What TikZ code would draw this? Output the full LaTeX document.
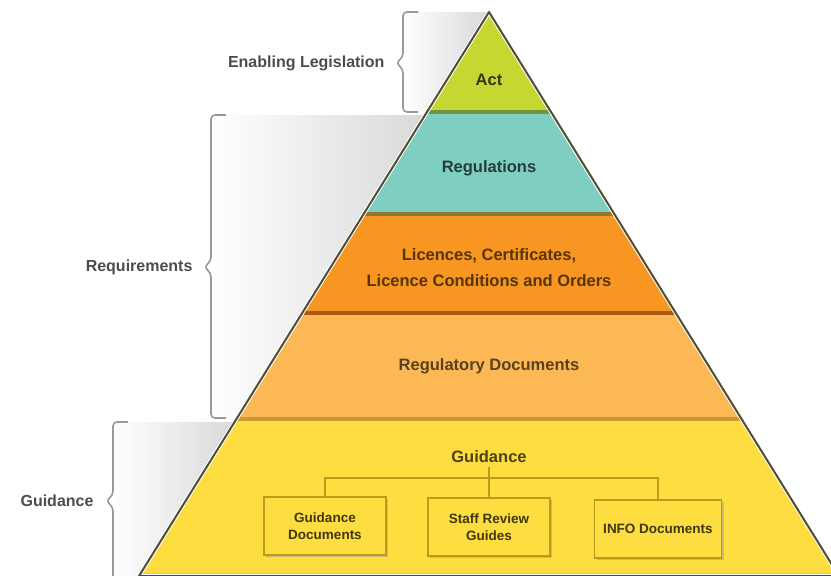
\documentclass[tikz,border=0pt]{standalone}
\usepackage{fontspec}
\setmainfont{Liberation Sans}
\usetikzlibrary{positioning,shadows}

\definecolor{actgreen}{RGB}{198,215,50}
\definecolor{regteal}{RGB}{126,206,193}
\definecolor{licorange}{RGB}{247,150,32}
\definecolor{docorange}{RGB}{253,184,86}
\definecolor{guideyellow}{RGB}{253,221,64}
\definecolor{guideline}{RGB}{185,155,30}
\definecolor{edgegray}{RGB}{80,78,50}

\begin{document}
\begin{tikzpicture}[x=1pt,y=-1pt,
	band/.style={font=\bfseries\fontsize{16.5}{26}\selectfont, align=center},
	side/.style={font=\bfseries\fontsize{16}{19}\selectfont, text=black!70, anchor=east},
	brace/.style={draw=black!40, line width=1.6pt, rounded corners=4pt},
	backshade/.style={left color=white, right color=black!15},
	sep/.style={line width=4pt},
	docbox/.style={draw=guideline, line width=1.6pt, fill=guideyellow,
		minimum width=122pt, minimum height=58pt, align=center,
		text=black!75!guideyellow, font=\bfseries\fontsize{13.5}{17}\selectfont,
		drop shadow={shadow xshift=2pt, shadow yshift=-2pt, fill=black!40, opacity=0.5}},
	branch/.style={draw=guideline, line width=2pt}]
	\useasboundingbox (0,0) rectangle (831,576);
	\clip (0,0) rectangle (831,576);

	% grey backs behind the braces
	\shade[backshade] (403,12) -- (489,12) -- (427,112) -- (403,112) -- cycle;
	\shade[backshade] (211,115) -- (425,115) -- (237,418) -- (211,418) -- cycle;
	\shade[backshade] (113,422) -- (235,422) -- (139,576) -- (113,576) -- cycle;

	% pyramid bands
	\begin{scope}
		\clip (489,12) -- (839,576) -- (139,576) -- cycle;
		\fill[actgreen] (0,0) rectangle (831,112);
		\fill[regteal] (0,112) rectangle (831,214);
		\fill[licorange] (0,214) rectangle (831,313);
		\fill[docorange] (0,313) rectangle (831,419);
		\fill[guideyellow] (0,419) rectangle (831,576);
		\draw[sep, color={rgb,255:red,110;green,150;blue,60}] (0,112) -- (831,112);
		\draw[sep, color={rgb,255:red,140;green,120;blue,50}] (0,214) -- (831,214);
		\draw[sep, color={rgb,255:red,170;green,90;blue,20}] (0,313) -- (831,313);
		\draw[sep, color={rgb,255:red,200;green,155;blue,50}] (0,419) -- (831,419);
		\draw[sep, color={rgb,255:red,225;green,200;blue,120}] (0,575) -- (831,575);
	\end{scope}
	\draw[white, line width=4pt, line join=round] (489,12) -- (839,576) -- (139,576) -- cycle;
	\draw[edgegray, line width=2pt, line join=round] (489,12) -- (839,576) -- (139,576) -- cycle;

	% band texts
	\node[band, text=actgreen!25!black] (act) at (489,80) {Act};
	\node[band, text=regteal!30!black] (regs) at (489,168) {Regulations};
	\node[band, text=licorange!35!black] (lic) at (489,268) {Licences, Certificates,\\Licence Conditions and Orders};
	\node[band, text=docorange!35!black] (rdocs) at (489,366) {Regulatory Documents};
	\node[band, text=guideyellow!30!black] (guid) at (489,457) {Guidance};

	% guidance boxes
	\node[docbox] (gdocs) at (325,526) {Guidance\\Documents};
	\node[docbox] (staff) at (489,527) {Staff Review\\Guides};
	\node[docbox, minimum width=127pt] (info) at (658,529) {INFO Documents};
	\coordinate (bar) at (489,478);
	\draw[branch] (guid.south) -- (staff.north);
	\draw[branch] (gdocs.north) |- (bar) -| (info.north);

	% side labels and braces
	\node[side] (enleg) at (388,63) {Enabling Legislation};
	\node[side] (reqs) at (196,267) {Requirements};
	\node[side] (guidside) at (97,501) {Guidance};
	\draw[brace] (418,12) -- (403,12) -- (403,57) -- (396,63) -- (403,69) -- (403,112) -- (418,112);
	\draw[brace] (226,115) -- (211,115) -- (211,261) -- (204,267) -- (211,273) -- (211,418) -- (226,418);
	\draw[brace] (128,422) -- (113,422) -- (113,495) -- (106,501) -- (113,507) -- (113,580);
\end{tikzpicture}
\end{document}
